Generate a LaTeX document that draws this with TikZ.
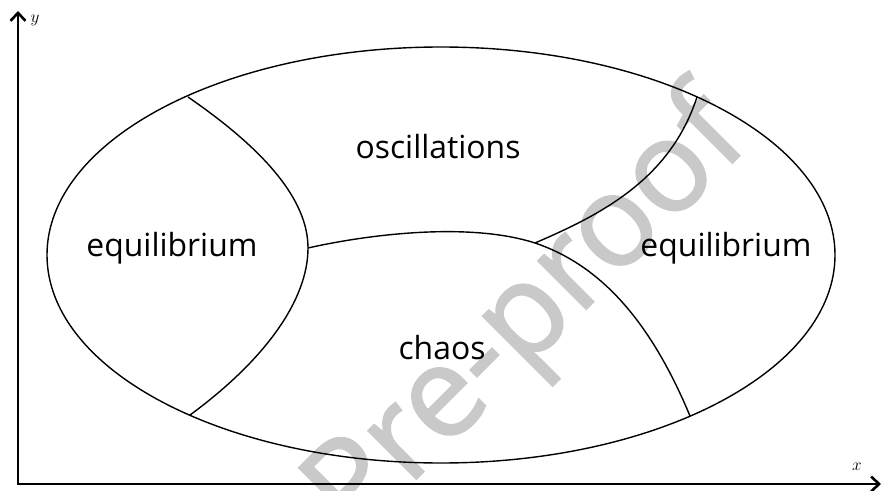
\documentclass[tikz,border=0pt]{standalone}
\usepackage{fontspec}
\setmainfont{Open Sans}
\newfontfamily\wmfont[FakeBold=1.4]{Open Sans}
\usetikzlibrary{arrows.meta}

\begin{document}
\begin{tikzpicture}[x=1bp, y=-1bp,
  axis/.style={line width=2.6bp, -{Straight Barb[length=8bp, width=15bp]}},
  border/.style={line width=1.4bp},
  region/.style={font=\fontsize{32}{36}\selectfont},
  axislabel/.style={font=\fontsize{19}{20}\selectfont},
  watermark/.style={font=\wmfont\fontsize{128}{128}\selectfont, text=black!21}]
  \useasboundingbox (0,0) rectangle (881,491);
  % watermark
  \node[watermark, rotate=45] (pp) at (530,318) {Pre-proof};
  % axes
  \coordinate (O) at (18,484);
  \coordinate (ytip) at (18,11);
  \coordinate (xtip) at (881,484);
  \draw[axis] (O) -- (ytip);
  \draw[axis] ([xshift=-1.3bp]O) -- (xtip);
  \node[axislabel] (ylab) at (35,20) {$y$};
  \node[axislabel] (xlab) at (857,467) {$x$};
  % parameter domain
  \draw[border] (441,255) ellipse [x radius=394, y radius=208];
  % boundary points
  \coordinate (lt) at (188,97);
  \coordinate (lb) at (190,415);
  \coordinate (lm) at (308,248);
  \coordinate (rj) at (535,243);
  \coordinate (rt) at (697,97);
  \coordinate (rb) at (690,416);
  % region borders
  \draw[border] (lt) .. controls (265,150) and (308,200) .. (lm)
    .. controls (308,300) and (265,360) .. (lb);
  \draw[border] (lm) .. controls (370,234) and (470,222) .. (rj)
    .. controls (600,265) and (650,320) .. (rb);
  \draw[border] (rj) .. controls (600,215) and (670,180) .. (rt);
  % regions
  \node[region] (osc) at (438,147) {oscillations};
  \node[region] (eqL) at (172,248) {equilibrium};
  \node[region] (eqR) at (726,248) {equilibrium};
  \node[region] (ch) at (442,348) {chaos};
\end{tikzpicture}
\end{document}
